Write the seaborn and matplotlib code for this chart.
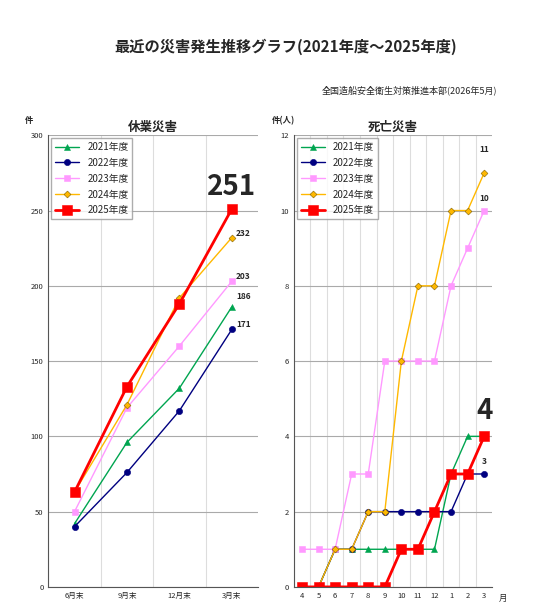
import matplotlib
matplotlib.use("Agg")
import matplotlib.pyplot as plt
import seaborn as sns
import pandas as pd
import numpy as np

sns.set_style("white")
plt.rcParams['font.family'] = ['Noto Sans CJK JP', 'DejaVu Sans']

years = ["2021年度", "2022年度", "2023年度", "2024年度", "2025年度"]
colors = ["#00A550", "#000080", "#FF99FF", "#FFB800", "#FF0000"]
markers = ["^", "o", "s", "D", "s"]
msizes = [4.5, 4.5, 5, 3.5, 6.5]
lwidths = [1.0, 1.0, 1.0, 1.0, 2.0]

left_cats = ["6月末", "9月末", "12月末", "3月末"]
left_vals = {
    "2021年度": [42, 96, 132, 186],
    "2022年度": [40, 76, 117, 171],
    "2023年度": [50, 119, 160, 203],
    "2024年度": [63, 121, 192, 232],
    "2025年度": [63, 133, 188, 251],
}
right_cats = ["4", "5", "6", "7", "8", "9", "10", "11", "12", "1", "2", "3"]
right_vals = {
    "2021年度": [0, 0, 1, 1, 1, 1, 1, 1, 1, 3, 4, 4],
    "2022年度": [0, 0, 1, 1, 2, 2, 2, 2, 2, 2, 3, 3],
    "2023年度": [1, 1, 1, 3, 3, 6, 6, 6, 6, 8, 9, 10],
    "2024年度": [0, 0, 1, 1, 2, 2, 6, 8, 8, 10, 10, 11],
    "2025年度": [0, 0, 0, 0, 0, 0, 1, 1, 2, 3, 3, 4],
}

fig = plt.figure(figsize=(5.49, 6.12), dpi=100)
fig.text(0.52, 0.915, "最近の災害発生推移グラフ(2021年度～2025年度)", ha="center", fontsize=11, fontweight="bold")
fig.text(0.905, 0.848, "全国造船安全衛生対策推進本部(2026年5月)", ha="right", fontsize=6.5)

axL = fig.add_axes([0.088, 0.041, 0.382, 0.738])
axR = fig.add_axes([0.535, 0.041, 0.362, 0.738])

def draw(ax, cats, vals):
    for y, c, m, ms, lw in zip(years, colors, markers, msizes, lwidths):
        df = pd.DataFrame({"x": np.arange(len(cats)), "y": vals[y]})
        sns.lineplot(data=df, x="x", y="y", ax=ax, color=c, marker=m, markersize=ms,
                     markeredgecolor=c if y != "2024年度" else "#806000", markeredgewidth=0.4,
                     linewidth=lw, label=y)
    ax.set_xlim(-0.5, len(cats) - 0.5)
    ax.set_xticks(np.arange(len(cats)))
    ax.set_xticklabels(cats, fontsize=5.5)
    ax.set_xticks(np.arange(len(cats)) - 0.5, minor=True)
    ax.grid(True, which="minor", axis="x", color="#dddddd", lw=0.8)
    ax.grid(True, which="major", axis="y", color="#aaaaaa", lw=0.8)
    ax.tick_params(axis="y", labelsize=5.5, length=0)
    ax.tick_params(axis="x", length=0)
    ax.set_xlabel(""); ax.set_ylabel("")
    for s in ["top", "right"]:
        ax.spines[s].set_visible(False)
    for s in ["left", "bottom"]:
        ax.spines[s].set_color("#555555")
    ax.legend(loc="upper left", fontsize=7, handlelength=2.5, frameon=True,
              fancybox=False, edgecolor="#999999", borderaxespad=0.3, labelspacing=0.6)

draw(axL, left_cats, left_vals)
axL.set_ylim(0, 300)
axL.set_yticks(range(0, 301, 50))
axL.set_title("休業災害", fontsize=9, pad=3, fontweight="bold")
axL.text(-0.11, 1.022, "件", transform=axL.transAxes, fontsize=6, va="bottom", fontweight="bold")
axL.text(3, 251 + 5, "251", ha="center", va="bottom", fontsize=20, fontweight="bold")
axL.text(3.08, 232, "232", fontsize=6, va="bottom", fontweight="bold")
axL.text(3.08, 203, "203", fontsize=6, va="bottom", fontweight="bold")
axL.text(3.08, 190, "186", fontsize=6, va="bottom", fontweight="bold")
axL.text(3.08, 171, "171", fontsize=6, va="bottom", fontweight="bold")

draw(axR, right_cats, right_vals)
axR.set_ylim(0, 12)
axR.set_yticks(range(0, 13, 2))
axR.set_title("死亡災害", fontsize=9, pad=3, fontweight="bold")
axR.text(-0.11, 1.022, "件(人)", transform=axR.transAxes, fontsize=6, va="bottom", fontweight="bold")
axR.text(1.03, -0.015, "月", transform=axR.transAxes, fontsize=6, va="top")
axR.text(11, 4.3, "4", ha="center", va="bottom", fontsize=20, fontweight="bold")
axR.text(11, 3.2, "3", ha="center", va="bottom", fontsize=6, fontweight="bold")
axR.text(11, 10.2, "10", ha="center", va="bottom", fontsize=6, fontweight="bold")
axR.text(11, 11.5, "11", ha="center", va="bottom", fontsize=6, fontweight="bold")

fig.savefig("out.png", dpi=100)
